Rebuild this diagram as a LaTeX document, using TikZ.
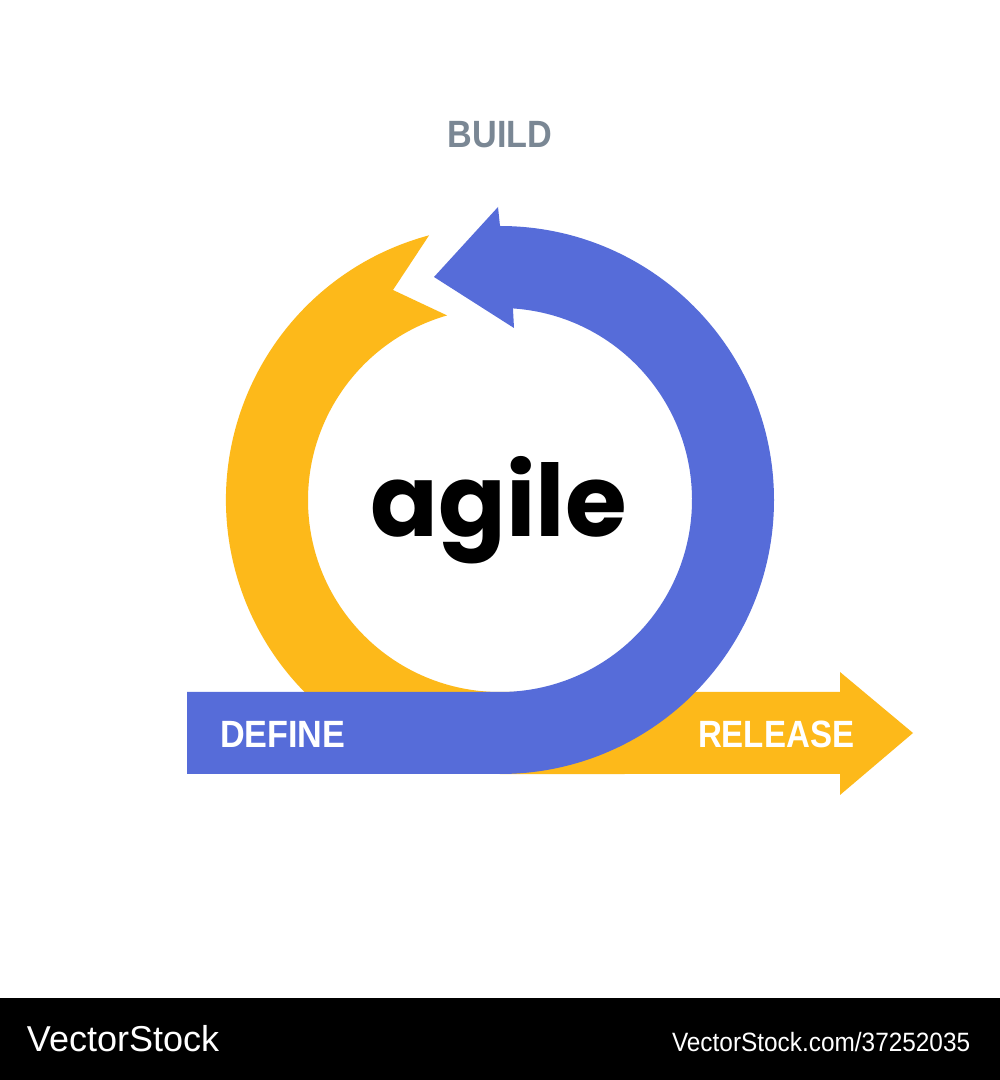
\documentclass[tikz,border=0pt]{standalone}
\usepackage{fontspec}
\setmainfont{Liberation Sans}
\newfontfamily\agilefont{Poppins}
\definecolor{bluec}{HTML}{566CD9}
\definecolor{yellowc}{HTML}{FDB91A}
\definecolor{grayc}{HTML}{7A8794}
\begin{document}
\begin{tikzpicture}[x=1pt,y=1pt,
  lbl/.style={inner sep=0pt,outer sep=0pt,font=\fontsize{38}{40}\selectfont\bfseries},
  foot/.style={inner sep=0pt,outer sep=0pt,text=white,anchor=base west}]
\useasboundingbox (0,0) rectangle (1000,1080);
\fill[white] (0,0) rectangle (1000,1080);
% footer band
\fill[black] (0,0) rectangle (1000,82);
% yellow arrow (behind)
\fill[yellowc] (429.08,844.66) arc[start angle=105, end angle=270, radius=274pt]
  -- (840,306) -- (840,285) -- (913,347) -- (840,408) -- (840,388) -- (500,388)
  arc[start angle=270, end angle=106, radius=192pt] -- (393,790) -- cycle;
% blue arrow (front)
\fill[bluec] (187,306) -- (500,306) arc[start angle=-90, end angle=90, radius=274pt]
  -- (498,873) -- (434,803) -- (514,752) -- (512.96,771.56)
  arc[start angle=86.13, end angle=-90, radius=192pt] -- (187,388) -- cycle;
% labels
\node[lbl,text=grayc,anchor=base] (build) at (500,932) {\scalebox{0.9}[1]{BUILD}};
\node[lbl,text=white,anchor=base west] (define) at (220,332) {\scalebox{0.9}[1]{DEFINE}};
\node[lbl,text=white,anchor=base west] (release) at (698,332) {\scalebox{0.87}[1]{RELEASE}};
\node[inner sep=0pt,anchor=base,font=\agilefont\bfseries\fontsize{100}{100}\selectfont] (agile) at (498.5,543) {agile};
\node[foot,font=\fontsize{36}{38}\selectfont] (vs) at (27,28) {VectorStock};
\node[foot,font=\fontsize{26.5}{28}\selectfont] (vsurl) at (672,28) {\scalebox{0.92}[1]{VectorStock.com/37252035}};
\end{tikzpicture}
\end{document}
